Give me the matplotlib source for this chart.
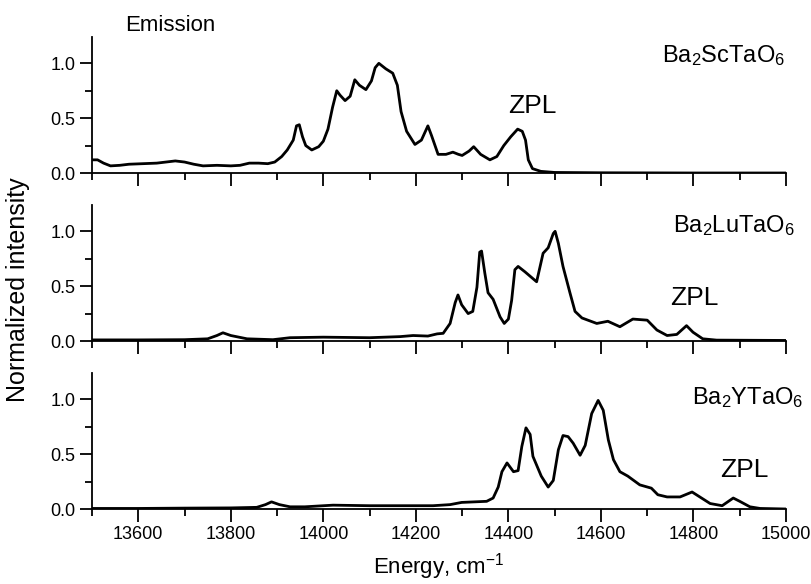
import matplotlib
matplotlib.use("Agg")
import matplotlib.pyplot as plt
from matplotlib.ticker import MultipleLocator

plt.rcParams['font.family'] = ['Liberation Sans', 'DejaVu Sans']
plt.rcParams['mathtext.fontset'] = 'custom'
plt.rcParams['mathtext.rm'] = 'Liberation Sans'
plt.rcParams['mathtext.it'] = 'Liberation Sans'

# ---- data ----
sc_energy = [13500, 13512, 13525, 13540, 13560, 13580, 13610, 13640, 13660, 13680, 13700, 13720,
             13740, 13770, 13800, 13820, 13840, 13860, 13880, 13895, 13910, 13922, 13935, 13942,
             13948, 13955, 13962, 13975, 13990, 14000, 14010, 14020, 14029, 14036, 14047, 14058,
             14068, 14078, 14092, 14104, 14112, 14120, 14135, 14150, 14160, 14168, 14180, 14198,
             14212, 14226, 14234, 14248, 14265, 14280, 14292, 14300, 14315, 14325, 14340, 14360,
             14375, 14390, 14405, 14420, 14430, 14437, 14443, 14452, 14470, 14500, 14600, 14800, 15000]
sc_int = [0.12, 0.12, 0.09, 0.065, 0.07, 0.08, 0.085, 0.09, 0.10, 0.11, 0.10, 0.08,
          0.065, 0.07, 0.065, 0.07, 0.09, 0.09, 0.085, 0.10, 0.15, 0.21, 0.30, 0.43,
          0.44, 0.33, 0.25, 0.21, 0.24, 0.29, 0.40, 0.60, 0.75, 0.71, 0.66, 0.70,
          0.85, 0.80, 0.76, 0.84, 0.96, 1.00, 0.95, 0.91, 0.80, 0.56, 0.38, 0.26,
          0.30, 0.43, 0.34, 0.17, 0.17, 0.19, 0.17, 0.16, 0.20, 0.24, 0.17, 0.12,
          0.15, 0.25, 0.33, 0.40, 0.38, 0.30, 0.12, 0.04, 0.015, 0.005, 0.002, 0.0, 0.0]

lu_energy = [13500, 13600, 13700, 13750, 13770, 13783, 13800, 13835, 13891, 13928, 14000, 14100,
             14166, 14194, 14226, 14246, 14259, 14274, 14285, 14291, 14299, 14313, 14323, 14332,
             14338, 14342, 14349, 14356, 14367, 14382, 14391, 14400, 14407, 14414, 14421, 14436,
             14461, 14468, 14475, 14486, 14497, 14501, 14508, 14518, 14533, 14544, 14559, 14591,
             14615, 14641, 14669, 14700, 14721, 14743, 14764, 14785, 14799, 14820, 14850, 15000]
lu_int = [0.01, 0.01, 0.012, 0.02, 0.05, 0.075, 0.05, 0.02, 0.012, 0.03, 0.035, 0.03,
          0.04, 0.05, 0.045, 0.065, 0.07, 0.16, 0.35, 0.42, 0.33, 0.25, 0.27, 0.49,
          0.81, 0.82, 0.62, 0.44, 0.38, 0.22, 0.16, 0.20, 0.37, 0.65, 0.68, 0.63,
          0.54, 0.67, 0.80, 0.85, 0.98, 1.00, 0.89, 0.68, 0.44, 0.27, 0.21, 0.16,
          0.18, 0.13, 0.20, 0.19, 0.10, 0.05, 0.06, 0.14, 0.08, 0.02, 0.008, 0.005]

y_energy = [13500, 13600, 13700, 13800, 13856, 13875, 13888, 13905, 13928, 13960, 14021, 14100,
            14166, 14237, 14274, 14299, 14353, 14367, 14378, 14386, 14397, 14411, 14421, 14429,
            14438, 14447, 14453, 14471, 14486, 14497, 14508, 14518, 14529, 14540, 14555, 14566,
            14580, 14594, 14605, 14616, 14627, 14641, 14658, 14684, 14709, 14723, 14743, 14771,
            14797, 14810, 14836, 14862, 14886, 14900, 14922, 14944, 15000]
y_int = [0.005, 0.005, 0.008, 0.01, 0.015, 0.04, 0.065, 0.04, 0.02, 0.02, 0.035, 0.03,
         0.03, 0.03, 0.04, 0.06, 0.07, 0.10, 0.20, 0.34, 0.42, 0.34, 0.35, 0.57,
         0.74, 0.68, 0.48, 0.30, 0.20, 0.26, 0.54, 0.67, 0.66, 0.60, 0.49, 0.58,
         0.87, 0.99, 0.90, 0.63, 0.45, 0.34, 0.30, 0.22, 0.19, 0.13, 0.11, 0.11,
         0.155, 0.12, 0.05, 0.03, 0.10, 0.07, 0.02, 0.005, 0.0]

compounds = [r'Ba$_2$ScTaO$_6$', r'Ba$_2$LuTaO$_6$', r'Ba$_2$YTaO$_6$']
energies = [sc_energy, lu_energy, y_energy]
intensities = [sc_int, lu_int, y_int]
name_pos = [(14732, 1.01), (14756, 0.99), (14797, 0.955)]
zpl_pos = [(14451, 0.545), (14801, 0.33), (14909, 0.29)]

W, H = 811, 584
fig = plt.figure(figsize=(W / 100, H / 100), dpi=100)
left = 92 / W
width = (786 - 92) / W
panels = [(37, 173), (205, 341), (373, 509)]
axes = []
for i, (top, bot) in enumerate(panels):
    ax = fig.add_axes([left, 1 - bot / H, width, (bot - top) / H])
    axes.append(ax)
    ax.plot(energies[i], intensities[i], color='black', lw=2.0, solid_joinstyle='round')
    ax.set_xlim(13500, 15000)
    ax.set_ylim(0, 1.24)
    for s in ['top', 'right']:
        ax.spines[s].set_visible(False)
    for s in ['left', 'bottom']:
        ax.spines[s].set_linewidth(1.3)
    ax.xaxis.set_major_locator(MultipleLocator(200))
    ax.xaxis.set_minor_locator(MultipleLocator(100))
    ax.yaxis.set_major_locator(MultipleLocator(0.5))
    ax.yaxis.set_minor_locator(MultipleLocator(0.25))
    ax.tick_params(which='major', direction='out', length=9, width=1.3, labelsize=13, pad=3)
    ax.tick_params(which='minor', direction='out', length=5, width=1.3)
    ax.set_yticks([0.0, 0.5, 1.0])
    ax.set_yticklabels(['0.0', '0.5', '1.0'])
    if i < 2:
        ax.tick_params(axis='x', labelbottom=False)
    ax.text(name_pos[i][0], name_pos[i][1], compounds[i], fontsize=17, va='baseline', ha='left', clip_on=False)
    ax.text(zpl_pos[i][0], zpl_pos[i][1], 'ZPL', fontsize=19, va='baseline', ha='center')

axes[0].text(13571, 1.345, 'Emission', fontsize=16, va='center', ha='left', clip_on=False)
axes[2].set_xlabel(r'Energy, cm$^{-1}$', fontsize=16, labelpad=6)
fig.text(18 / W, 1 - 290 / H, 'Normalized intensity', rotation=90, fontsize=18, va='center', ha='center')

fig.savefig('out.png', dpi=100)
